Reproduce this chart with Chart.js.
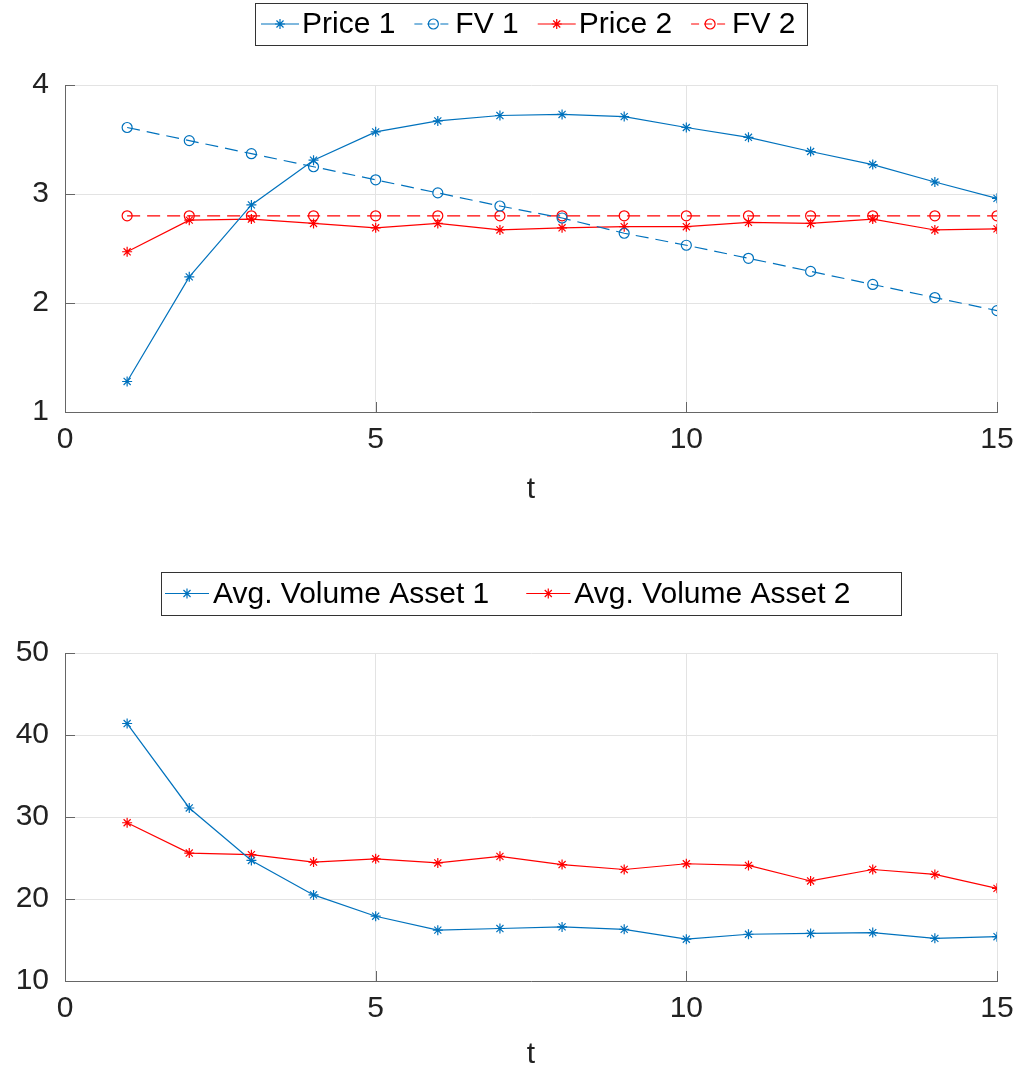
<!DOCTYPE html>
<html>
<head>
<meta charset="utf-8">
<script src="https://cdn.jsdelivr.net/npm/chart.js@4.4.1/dist/chart.umd.min.js"></script>
<style>
    body { margin: 0; background: #fff; }
    canvas { position: absolute; left: 0; }
</style>
</head>
<body>
<canvas id="priceChart" width="1018" height="530" style="top:0"></canvas>
<canvas id="volumeChart" width="1018" height="544" style="top:530px"></canvas>
<script>
// Data
const t = [1, 2, 3, 4, 5, 6, 7, 8, 9, 10, 11, 12, 13, 14, 15];
const price1 = [1.28, 2.24, 2.90, 3.31, 3.57, 3.67, 3.72, 3.73, 3.71, 3.61, 3.52, 3.39, 3.27, 3.11, 2.96];
const fv1 = [3.61, 3.49, 3.37, 3.25, 3.13, 3.01, 2.89, 2.78, 2.64, 2.53, 2.41, 2.29, 2.17, 2.05, 1.93];
const price2 = [2.47, 2.76, 2.77, 2.73, 2.69, 2.73, 2.67, 2.69, 2.70, 2.70, 2.74, 2.73, 2.77, 2.67, 2.68];
const fv2 = [2.80, 2.80, 2.80, 2.80, 2.80, 2.80, 2.80, 2.80, 2.80, 2.80, 2.80, 2.80, 2.80, 2.80, 2.80];
const volume1 = [41.4, 31.1, 24.7, 20.5, 17.9, 16.2, 16.4, 16.6, 16.3, 15.1, 15.7, 15.8, 15.9, 15.2, 15.4];
const volume2 = [29.3, 25.6, 25.4, 24.5, 24.9, 24.4, 25.2, 24.2, 23.6, 24.3, 24.1, 22.2, 23.6, 23.0, 21.3];

const BLUE = '#0072BD';
const RED = '#FF0000';
const AXIS_COLOR = '#666666';
const GRID_COLOR = '#e3e3e3';
const TEXT_COLOR = '#222222';
const FAMILY = '"Liberation Sans", Arial, sans-serif';

const toXY = vals => vals.map((v, i) => ({ x: t[i], y: v }));

function series(label, vals, color, marker, dashed) {
    return {
        label,
        data: toXY(vals),
        borderColor: color,
        backgroundColor: 'rgba(0,0,0,0)',
        borderWidth: 1.2,
        borderDash: dashed ? [13, 7] : [],
        pointStyle: marker,
        pointRadius: 5,
        pointBorderColor: color,
        pointBackgroundColor: 'rgba(0,0,0,0)',
        pointBorderWidth: 1.2,
        tension: 0
    };
}

// Marker drawing for the legend
function drawMarker(ctx, style, x, y, r) {
    ctx.beginPath();
    if (style === 'circle') {
        ctx.arc(x, y, r, 0, Math.PI * 2);
    } else {
        const d = r * Math.SQRT1_2;
        ctx.moveTo(x - r, y); ctx.lineTo(x + r, y);
        ctx.moveTo(x, y - r); ctx.lineTo(x, y + r);
        ctx.moveTo(x - d, y - d); ctx.lineTo(x + d, y + d);
        ctx.moveTo(x - d, y + d); ctx.lineTo(x + d, y - d);
    }
    ctx.stroke();
}

// Boxed legend above the plot
const boxLegend = {
    id: 'boxLegend',
    afterDraw(chart, args, o) {
        const ctx = chart.ctx;
        ctx.save();
        ctx.font = `30px ${FAMILY}`;
        const items = chart.data.datasets.map(ds => ({ ds, w: ctx.measureText(ds.label).width }));
        const total = o.padL + o.padR + o.itemGap * (items.length - 1) +
            items.reduce((s, it) => s + o.lineLen + o.textGap + it.w, 0);
        const a = chart.chartArea;
        const x0 = Math.round((a.left + a.right) / 2 - total / 2);
        ctx.fillStyle = '#fff';
        ctx.fillRect(x0, o.top, total, o.height);
        ctx.strokeStyle = '#333';
        ctx.lineWidth = 1;
        ctx.strokeRect(x0 + 0.5, o.top + 0.5, Math.round(total), o.height);
        const cy = o.top + o.height / 2;
        let cx = x0 + o.padL;
        items.forEach(it => {
            ctx.strokeStyle = it.ds.borderColor;
            ctx.lineWidth = it.ds.borderWidth;
            ctx.setLineDash(it.ds.borderDash.length ? [8, 5] : []);
            ctx.beginPath();
            ctx.moveTo(cx, cy);
            ctx.lineTo(cx + o.lineLen, cy);
            ctx.stroke();
            ctx.setLineDash([]);
            drawMarker(ctx, it.ds.pointStyle, cx + o.lineLen / 2, cy, 5);
            cx += o.lineLen + o.textGap;
            ctx.fillStyle = '#000';
            ctx.textBaseline = 'middle';
            ctx.textAlign = 'left';
            ctx.fillText(it.ds.label, cx, cy + 1);
            cx += it.w + o.itemGap;
        });
        ctx.restore();
    }
};

// Inward tick marks like MATLAB
const inwardTicks = {
    id: 'inwardTicks',
    afterDraw(chart) {
        const ctx = chart.ctx, xs = chart.scales.x, ys = chart.scales.y, a = chart.chartArea;
        ctx.save();
        ctx.strokeStyle = AXIS_COLOR;
        ctx.lineWidth = 1;
        ctx.beginPath();
        ys.ticks.forEach(tk => {
            const py = Math.round(ys.getPixelForValue(tk.value)) + 0.5;
            ctx.moveTo(a.left, py); ctx.lineTo(a.left + 10, py);
        });
        xs.ticks.forEach(tk => {
            const px = Math.round(xs.getPixelForValue(tk.value)) + 0.5;
            ctx.moveTo(px, a.bottom); ctx.lineTo(px, a.bottom - 10);
        });
        ctx.stroke();
        ctx.restore();
    }
};

function makeOptions(yMin, yMax, yStep, pad, xHeight, legend) {
    return {
        responsive: false,
        animation: false,
        devicePixelRatio: 1,
        layout: { padding: pad },
        plugins: { legend: { display: false }, tooltip: { enabled: false }, boxLegend: legend },
        scales: {
            x: {
                type: 'linear', min: 0, max: 15,
                ticks: { stepSize: 5, padding: 10, color: TEXT_COLOR, font: { family: FAMILY, size: 30 } },
                grid: { color: GRID_COLOR, drawTicks: false },
                border: { display: true, color: AXIS_COLOR, width: 1 },
                title: { display: true, text: 't', color: TEXT_COLOR, font: { family: FAMILY, size: 30 }, padding: 0 },
                afterFit: s => { s.height = xHeight; s.paddingLeft = 0; s.paddingRight = 0; }
            },
            y: {
                min: yMin, max: yMax,
                ticks: { stepSize: yStep, padding: 16, color: TEXT_COLOR, font: { family: FAMILY, size: 30 } },
                grid: { color: GRID_COLOR, drawTicks: false },
                border: { display: true, color: AXIS_COLOR, width: 1 },
                afterFit: s => { s.width = 65; s.paddingTop = 0; s.paddingBottom = 0; }
            }
        }
    };
}

new Chart(document.getElementById('priceChart'), {
    type: 'line',
    data: {
        datasets: [
            series('Price 1', price1, BLUE, 'star', false),
            series('FV 1', fv1, BLUE, 'circle', true),
            series('Price 2', price2, RED, 'star', false),
            series('FV 2', fv2, RED, 'circle', true)
        ]
    },
    options: makeOptions(1, 4, 1, { top: 85, left: 0, right: 21, bottom: 22 }, 96,
        { top: 3, height: 42, padL: 6, lineLen: 38, textGap: 3, itemGap: 19, padR: 12 }),
    plugins: [boxLegend, inwardTicks]
});

new Chart(document.getElementById('volumeChart'), {
    type: 'line',
    data: {
        datasets: [
            series('Avg. Volume Asset 1', volume1, BLUE, 'star', false),
            series('Avg. Volume Asset 2', volume2, RED, 'star', false)
        ]
    },
    options: makeOptions(10, 50, 10, { top: 123, left: 0, right: 21, bottom: 1 }, 92,
        { top: 42, height: 43, padL: 4, lineLen: 44, textGap: 4, itemGap: 37, padR: 50 }),
    plugins: [boxLegend, inwardTicks]
});
</script>
</body>
</html>
